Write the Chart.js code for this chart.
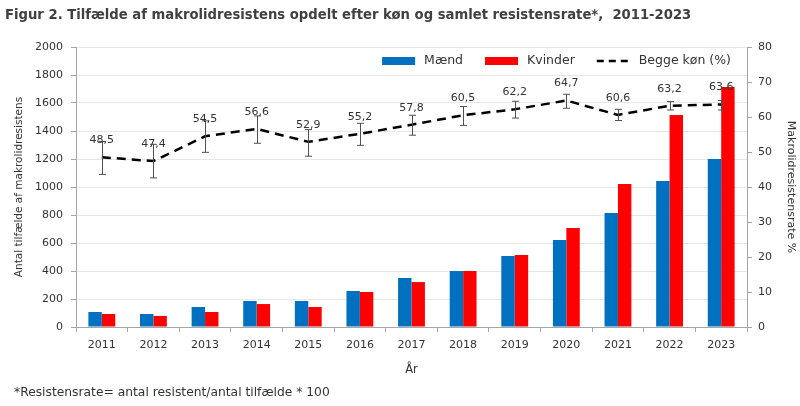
<!DOCTYPE html>
<html>
<head>
<meta charset="utf-8">
<script src="https://cdn.jsdelivr.net/npm/chart.js@4/dist/chart.umd.min.js"></script>
<style>
  html, body { margin: 0; padding: 0; background: #fff; }
  #wrap { width: 800px; height: 406px; }
</style>
</head>
<body>
<div id="wrap"><canvas id="myChart" width="800" height="406"></canvas></div>
<script>
var years = ['2011', '2012', '2013', '2014', '2015', '2016', '2017', '2018', '2019', '2020', '2021', '2022', '2023'];
var maend = [107, 93, 143, 186, 186, 257, 350, 400, 507, 621, 814, 1043, 1200];
var kvinder = [93, 79, 107, 164, 143, 250, 321, 400, 514, 707, 1021, 1514, 1714];
var beggeKoen = [48.5, 47.4, 54.5, 56.6, 52.9, 55.2, 57.8, 60.5, 62.2, 64.7, 60.6, 63.2, 63.6];
var ciLow = [43.6, 42.6, 49.9, 52.5, 48.8, 51.9, 54.8, 57.6, 59.7, 62.5, 59.0, 62.0, 62.0];
var ciHigh = [53.0, 52.2, 58.9, 60.3, 56.4, 58.2, 60.5, 63.0, 64.5, 66.5, 62.2, 64.4, 64.7];

var titleText = 'Figur 2. Tilfælde af makrolidresistens opdelt efter køn og samlet resistensrate*,  2011-2023';
var noteText = '*Resistensrate= antal resistent/antal tilfælde * 100';

var FONT = '"DejaVu Sans", sans-serif';
var textCol = '#333333';
var axisCol = '#a6a6a6';

// error bars and the value labels on the line
var errorBars = {
  id: 'errorBars',
  afterDatasetsDraw: function (chart) {
    var ctx = chart.ctx;
    var y1 = chart.scales.y1;
    var meta = chart.getDatasetMeta(2);
    ctx.save();
    ctx.strokeStyle = '#505050';
    ctx.lineWidth = 1;
    meta.data.forEach(function (pt, i) {
      var x = Math.round(pt.x) + 0.5;
      var top = y1.getPixelForValue(ciHigh[i]);
      var bot = y1.getPixelForValue(ciLow[i]);
      ctx.beginPath();
      ctx.moveTo(x, top); ctx.lineTo(x, bot);
      ctx.moveTo(x - 3.5, top); ctx.lineTo(x + 3.5, top);
      ctx.moveTo(x - 3.5, bot); ctx.lineTo(x + 3.5, bot);
      ctx.stroke();
    });
    ctx.fillStyle = textCol;
    ctx.font = '11px ' + FONT;
    ctx.textAlign = 'center';
    ctx.textBaseline = 'middle';
    meta.data.forEach(function (pt, i) {
      ctx.fillText(beggeKoen[i].toFixed(1).replace('.', ','), pt.x, pt.y - 17);
    });
    ctx.restore();
  }
};

// title, footnote and legend
var extras = {
  id: 'extras',
  afterDraw: function (chart) {
    var ctx = chart.ctx;
    var area = chart.chartArea;
    ctx.save();
    ctx.textBaseline = 'middle';
    ctx.textAlign = 'left';
    ctx.fillStyle = '#404040';
    ctx.font = 'bold 13.2px ' + FONT;
    ctx.fillText(titleText, 5, 16);
    ctx.fillStyle = textCol;
    ctx.font = '12.3px ' + FONT;
    ctx.fillText(noteText, 14, 393);

    // legend, laid out from the right end of the plot
    ctx.font = '12.5px ' + FONT;
    var ds = chart.data.datasets;
    var y = 61;
    var x = area.right - 16;
    for (var i = ds.length - 1; i >= 0; i--) {
      var w = ctx.measureText(ds[i].label).width;
      x -= w;
      ctx.fillStyle = textCol;
      ctx.fillText(ds[i].label, x, y);
      x -= 9 + 33;
      if (ds[i].type === 'line') {
        ctx.strokeStyle = ds[i].borderColor;
        ctx.lineWidth = 2.5;
        ctx.setLineDash([7, 5]);
        ctx.beginPath();
        ctx.moveTo(x, y); ctx.lineTo(x + 33, y);
        ctx.stroke();
        ctx.setLineDash([]);
      } else {
        ctx.fillStyle = ds[i].backgroundColor;
        ctx.fillRect(x, y - 4, 33, 8);
      }
      x -= 22;
    }
    ctx.restore();
  }
};

var myChart = new Chart(document.getElementById('myChart'), {
  type: 'bar',
  data: {
    labels: years,
    datasets: [{
      label: 'Mænd',
      data: maend,
      backgroundColor: '#0070C0',
      yAxisID: 'y',
      order: 1,
      categoryPercentage: 0.52,
      barPercentage: 1
    }, {
      label: 'Kvinder',
      data: kvinder,
      backgroundColor: '#FF0000',
      yAxisID: 'y',
      order: 1,
      categoryPercentage: 0.52,
      barPercentage: 1
    }, {
      type: 'line',
      label: 'Begge køn (%)',
      data: beggeKoen,
      yAxisID: 'y1',
      borderColor: '#000000',
      backgroundColor: '#000000',
      borderWidth: 2.5,
      borderDash: [9, 6],
      pointRadius: 0,
      fill: false,
      order: 0
    }]
  },
  options: {
    responsive: false,
    animation: false,
    devicePixelRatio: 1,
    layout: { padding: { top: 47, bottom: 28, left: 0, right: 0 } },
    plugins: {
      title: { display: false },
      legend: { display: false },
      tooltip: { enabled: false }
    },
    scales: {
      x: {
        offset: true,
        grid: { offset: true, drawOnChartArea: false, tickLength: 5, tickColor: axisCol },
        border: { color: axisCol },
        ticks: { color: textCol, font: { family: FONT, size: 11 }, padding: 7, maxRotation: 0 },
        title: { display: true, text: 'År', color: textCol, font: { family: FONT, size: 11.5 }, padding: { top: 4, bottom: 1 } },
        afterFit: function (s) { s.height = 51; }
      },
      y: {
        position: 'left',
        min: 0,
        max: 2000,
        ticks: {
          stepSize: 200, color: textCol, font: { family: FONT, size: 11 }, padding: 8,
          callback: function (v) { return String(v); }
        },
        grid: { color: '#e6e6e6', tickLength: 5, tickColor: axisCol },
        border: { color: axisCol },
        title: { display: true, text: 'Antal tilfælde af makrolidresistens', color: textCol, font: { family: FONT, size: 10.5 }, padding: { top: 13, bottom: 0 } },
        afterFit: function (s) { s.width = 76; }
      },
      y1: {
        position: 'right',
        min: 0,
        max: 80,
        ticks: { stepSize: 10, color: textCol, font: { family: FONT, size: 11 }, padding: 6 },
        grid: { drawOnChartArea: false, tickLength: 5, tickColor: axisCol },
        border: { color: axisCol },
        title: { display: true, text: 'Makrolidresistensrate %', color: textCol, font: { family: FONT, size: 11 }, padding: { top: 3, bottom: 0 } },
        afterFit: function (s) { s.width = 53; }
      }
    }
  },
  plugins: [errorBars, extras]
});
</script>
</body>
</html>
